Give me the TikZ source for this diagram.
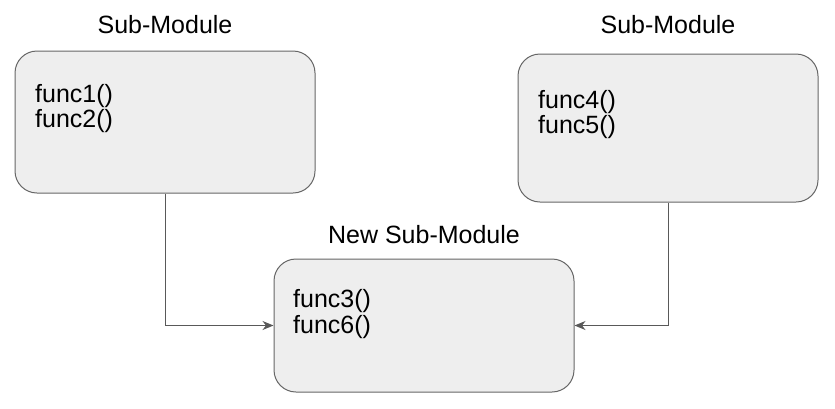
\documentclass[tikz,border=0pt]{standalone}
\usepackage{fontspec}
\setmainfont{Liberation Sans}
\usetikzlibrary{arrows.meta}
\definecolor{boxfill}{HTML}{EEEEEE}
\definecolor{boxline}{HTML}{666666}
\definecolor{arrline}{HTML}{595959}
\begin{document}
\begin{tikzpicture}[x=1pt,y=-1pt,
  modbox/.style={draw=boxline, fill=boxfill, line width=1pt, rounded corners=22pt, minimum width=300pt, inner sep=0pt},
  title/.style={anchor=base, inner sep=0pt, font=\fontsize{25}{30}\selectfont, text=black},
  func/.style={anchor=base west, inner sep=0pt, font=\fontsize{25}{30}\selectfont, text=black},
  conn/.style={draw=arrline, line width=1pt, -{Stealth[length=11pt,width=9pt,inset=3.5pt]}}]
\useasboundingbox (0,0) rectangle (835,408);
\node[modbox, minimum height=142pt] (b1) at (165,122) {};
\node[modbox, minimum height=148pt] (b2) at (668,128) {};
\node[modbox, minimum height=133pt] (b3) at (424,325.5) {};
\node[title] (t1) at (165,33) {Sub-Module};
\node[title] (t2) at (668,33) {Sub-Module};
\node[title] (t3) at (424,243) {New Sub-Module};
\node[func] (f1) at (35,102) {func1()};
\node[func] (f2) at (35,127) {func2()};
\node[func] (f4) at (538,108) {func4()};
\node[func] (f5) at (538,133) {func5()};
\node[func] (f3) at (293,307) {func3()};
\node[func] (f6) at (293,333) {func6()};
\draw[conn] (b1.south) |- (b3.west);
\draw[conn] (b2.south) |- (b3.east);
\end{tikzpicture}
\end{document}
